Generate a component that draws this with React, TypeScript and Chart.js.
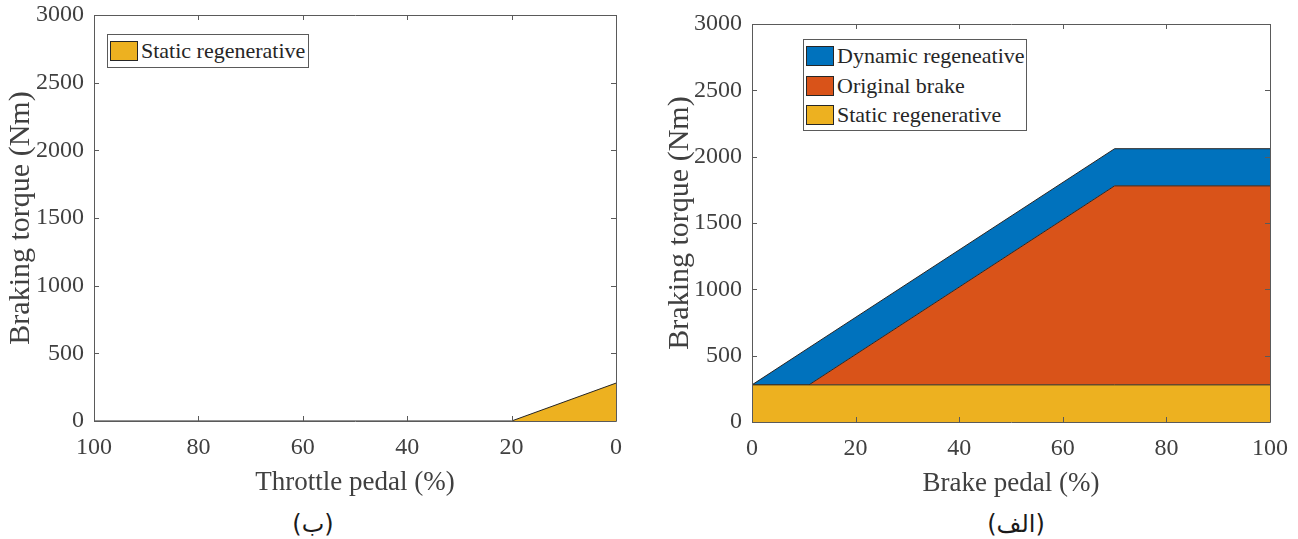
import React, { useEffect, useRef } from "react";
import { Chart, registerables } from "chart.js";

Chart.register(...registerables);

// Throttle side: static regenerative torque vs. throttle pedal position
const throttlePedal = [100, 20, 0];
const throttleStatic = [0, 0, 280];

// Brake side: torque layers vs. brake pedal position
const brakePedal = [0, 11, 70, 100];
const brakeStatic = [280, 280, 280, 280];
const brakeOriginal = [0, 0, 1500, 1500];
const brakeDynamic = [0, 280, 280, 280];

const yTicks = [0, 500, 1000, 1500, 2000, 2500, 3000];
const xTicks = [0, 20, 40, 60, 80, 100];

const BLUE = "#0072BD";
const ORANGE = "#D95319";
const YELLOW = "#EDB120";
const EDGE = "#262626";
const AXIS = "#5a5a5a";
const TEXT = "#404040";
const SERIF = "'Liberation Serif', 'Times New Roman', serif";

Chart.defaults.font.family = SERIF;
Chart.defaults.font.size = 24;
Chart.defaults.color = TEXT;

// Box outline plus inward tick marks on all four sides, MATLAB-style
const boxAxesPlugin = {
  id: "boxAxes",
  afterDatasetsDraw(chart: any) {
    const { ctx, chartArea } = chart;
    const { left, right, top, bottom } = chartArea;
    const xs = chart.scales.x;
    const ys = chart.scales.y;
    const len = 5;
    ctx.save();
    ctx.strokeStyle = AXIS;
    ctx.lineWidth = 1;
    ctx.beginPath();
    ctx.rect(Math.round(left) + 0.5, Math.round(top) + 0.5, Math.round(right - left), Math.round(bottom - top));
    for (const v of xTicks) {
      const px = Math.round(xs.getPixelForValue(v)) + 0.5;
      ctx.moveTo(px, bottom);
      ctx.lineTo(px, bottom - len);
      ctx.moveTo(px, top);
      ctx.lineTo(px, top + len);
    }
    for (const v of yTicks) {
      const py = Math.round(ys.getPixelForValue(v)) + 0.5;
      ctx.moveTo(left, py);
      ctx.lineTo(left + len, py);
      ctx.moveTo(right, py);
      ctx.lineTo(right - len, py);
    }
    ctx.stroke();
    ctx.restore();
  },
};

const plainLabel = (value: any) => String(value);

function makeOptions(opts: {
  reverse: boolean;
  xTitle: string;
  yAxisWidth: number;
  yTitlePad: number;
  padding: { left: number; right: number; top: number; bottom: number };
}) {
  return {
    responsive: false,
    animation: false as const,
    layout: { padding: opts.padding },
    plugins: {
      legend: { display: false },
      tooltip: { enabled: false },
    },
    elements: { point: { radius: 0 }, line: { tension: 0 } },
    scales: {
      x: {
        type: "linear" as const,
        min: 0,
        max: 100,
        reverse: opts.reverse,
        afterBuildTicks: (scale: any) => {
          scale.ticks = xTicks.map((v) => ({ value: v }));
        },
        afterFit: (scale: any) => {
          scale.height = 78;
          scale.paddingLeft = 0;
          scale.paddingRight = 0;
        },
        grid: { display: false, drawTicks: false },
        border: { display: false },
        ticks: {
          padding: 12,
          color: TEXT,
          font: { family: SERIF, size: 24 },
          maxRotation: 0,
          autoSkip: false,
          callback: plainLabel,
        },
        title: {
          display: true,
          text: opts.xTitle,
          color: TEXT,
          font: { family: SERIF, size: 27 },
          padding: { top: 0, bottom: 0 },
        },
      },
      y: {
        type: "linear" as const,
        min: 0,
        max: 3000,
        afterBuildTicks: (scale: any) => {
          scale.ticks = yTicks.map((v) => ({ value: v }));
        },
        afterFit: (scale: any) => {
          scale.width = opts.yAxisWidth;
          scale.paddingTop = 0;
          scale.paddingBottom = 0;
        },
        grid: { display: false, drawTicks: false },
        border: { display: false },
        ticks: {
          padding: 10,
          color: TEXT,
          font: { family: SERIF, size: 24 },
          autoSkip: false,
          callback: plainLabel,
        },
        title: {
          display: true,
          text: "Braking torque (Nm)",
          color: TEXT,
          font: { family: SERIF, size: 30 },
          padding: { top: opts.yTitlePad, bottom: 0 },
        },
      },
    },
  };
}

function ThrottleChart() {
  const ref = useRef<HTMLCanvasElement>(null);
  useEffect(() => {
    if (!ref.current) return;
    const data = throttlePedal.map((x, i) => ({ x, y: throttleStatic[i] }));
    const chart = new Chart(ref.current, {
      type: "line",
      data: {
        datasets: [
          {
            label: "Static regenerative",
            data,
            borderColor: EDGE,
            borderWidth: 1,
            backgroundColor: YELLOW,
            fill: "origin",
          },
        ],
      },
      options: makeOptions({
        reverse: true,
        xTitle: "Throttle pedal (%)",
        yAxisWidth: 94,
        yTitlePad: 3,
        padding: { left: 0, right: 34, top: 15, bottom: 0 },
      }) as any,
      plugins: [boxAxesPlugin],
    });
    return () => chart.destroy();
  }, []);
  return <canvas ref={ref} width={650} height={499} style={{ width: 650, height: 499, display: "block" }} />;
}

function BrakeChart() {
  const ref = useRef<HTMLCanvasElement>(null);
  useEffect(() => {
    if (!ref.current) return;
    // cumulative boundaries of the stacked layers
    const staticTop = brakePedal.map((x, i) => ({ x, y: brakeStatic[i] }));
    const originalTop = brakePedal.map((x, i) => ({ x, y: brakeStatic[i] + brakeOriginal[i] }));
    const dynamicTop = brakePedal.map((x, i) => ({
      x,
      y: brakeStatic[i] + brakeOriginal[i] + brakeDynamic[i],
    }));
    const chart = new Chart(ref.current, {
      type: "line",
      data: {
        datasets: [
          {
            label: "Static regenerative",
            data: staticTop,
            borderColor: EDGE,
            borderWidth: 1,
            backgroundColor: YELLOW,
            fill: "origin",
          },
          {
            label: "Original brake",
            data: originalTop,
            borderColor: EDGE,
            borderWidth: 1,
            backgroundColor: ORANGE,
            fill: "-1",
          },
          {
            label: "Dynamic regeneative",
            data: dynamicTop,
            borderColor: EDGE,
            borderWidth: 1,
            backgroundColor: BLUE,
            fill: "-1",
          },
        ],
      },
      options: makeOptions({
        reverse: false,
        xTitle: "Brake pedal (%)",
        yAxisWidth: 102,
        yTitlePad: 12,
        padding: { left: 0, right: 28, top: 24, bottom: 0 },
      }) as any,
      plugins: [boxAxesPlugin],
    });
    return () => chart.destroy();
  }, []);
  return <canvas ref={ref} width={648} height={500} style={{ width: 648, height: 500, display: "block" }} />;
}

const legendBox: React.CSSProperties = {
  position: "absolute",
  background: "#fff",
  border: `1px solid ${AXIS}`,
  boxSizing: "border-box",
  fontFamily: SERIF,
  fontSize: 22,
  color: "#262626",
};

function LegendRow({ color, label, top }: { color: string; label: string; top: number }) {
  return (
    <div style={{ position: "absolute", left: 2, top, height: 20, display: "flex", alignItems: "center", whiteSpace: "nowrap" }}>
      <div style={{ width: 28, height: 20, background: color, border: `1px solid ${EDGE}`, boxSizing: "border-box" }} />
      <span style={{ marginLeft: 3, lineHeight: "20px", fontFamily: SERIF }}>{label}</span>
    </div>
  );
}

const captionStyle: React.CSSProperties = {
  position: "absolute",
  fontFamily: "'DejaVu Sans', 'Noto Sans', sans-serif",
  fontSize: 24,
  color: "#1a1a1a",
  transform: "translate(-50%, -50%)",
  whiteSpace: "nowrap",
};

export default function App() {
  return (
    <div style={{ position: "fixed", left: 0, top: 0, width: 1298, height: 539, background: "#fff", overflow: "hidden" }}>
      <div style={{ position: "absolute", left: 0, top: 0 }}>
        <ThrottleChart />
      </div>
      <div style={{ position: "absolute", left: 650, top: 0 }}>
        <BrakeChart />
      </div>

      <div style={{ ...legendBox, left: 107, top: 34, width: 202, height: 34 }}>
        <LegendRow color={YELLOW} label="Static regenerative" top={6} />
      </div>

      <div style={{ ...legendBox, left: 803, top: 39, width: 224, height: 92 }}>
        <LegendRow color={BLUE} label="Dynamic regeneative" top={6} />
        <LegendRow color={ORANGE} label="Original brake" top={36} />
        <LegendRow color={YELLOW} label="Static regenerative" top={65} />
      </div>

      <div dir="rtl" style={{ ...captionStyle, left: 313, top: 524 }}>(ب)</div>
      <div dir="rtl" style={{ ...captionStyle, left: 1016, top: 524 }}>(الف)</div>
    </div>
  );
}
